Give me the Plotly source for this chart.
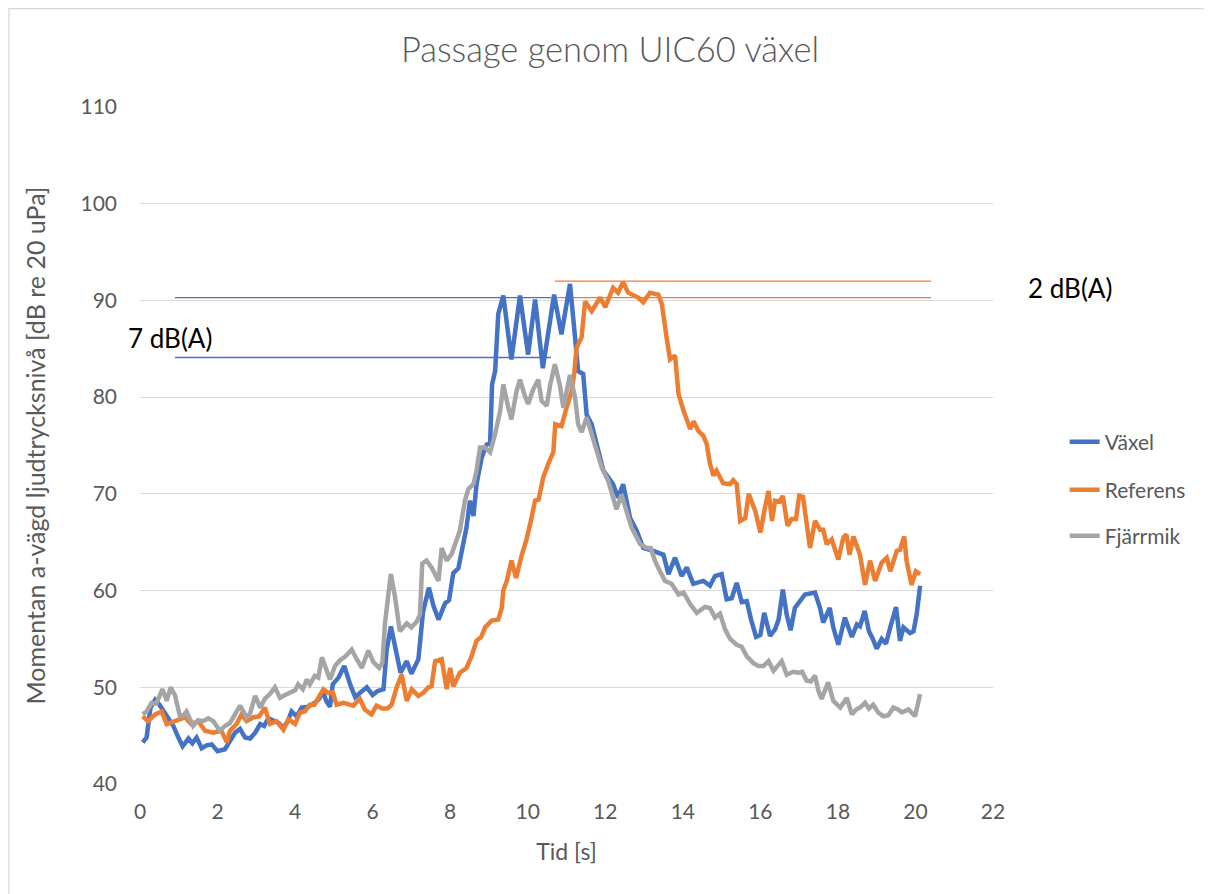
import plotly.graph_objects as go

# ---------------- data ----------------
t_vaxel = [0.07,0.17,0.27,0.39,0.5,0.69,0.86,0.99,1.1,1.25,1.35,1.46,1.59,1.72,1.85,2.0,2.19,2.3,2.45,2.58,
           2.71,2.84,2.97,3.1,3.2,3.31,3.45,3.58,3.68,3.8,3.91,4.04,4.17,4.34,4.51,4.62,4.72,4.8,4.9,4.97,
           5.12,5.27,5.42,5.55,5.67,5.85,6.0,6.12,6.28,6.36,6.47,6.6,6.72,6.88,7.0,7.18,7.3,7.45,7.57,7.7,
           7.87,7.97,8.08,8.21,8.34,8.42,8.51,8.6,8.68,8.81,8.94,9.03,9.08,9.16,9.24,9.37,9.58,9.8,10.01,10.19,
           10.39,10.68,10.87,11.09,11.22,11.3,11.43,11.52,11.65,11.78,11.95,12.2,12.33,12.46,12.64,12.81,12.98,13.24,13.5,13.63,
           13.8,13.97,14.1,14.27,14.53,14.7,14.83,15.0,15.13,15.26,15.39,15.52,15.65,15.76,15.89,16.0,16.1,16.25,16.38,16.47,
           16.58,16.68,16.78,16.89,17.02,17.15,17.41,17.54,17.62,17.79,17.88,18.01,18.18,18.36,18.49,18.57,18.69,18.8,18.9,19.0,
           19.13,19.24,19.35,19.5,19.6,19.69,19.86,19.95,20.03,20.12]
v_vaxel = [44.3,44.8,47.9,48.7,48.2,47.0,46.0,44.8,43.9,44.7,44.2,44.8,43.7,44.0,44.1,43.4,43.6,44.3,45.3,45.7,
           44.8,44.7,45.3,46.2,46.0,46.8,46.6,46.3,45.8,46.4,47.5,47.0,47.9,48.0,48.4,48.8,49.6,48.6,48.0,50.3,
           51.0,52.2,50.3,49.0,49.4,50.0,49.2,49.6,49.8,53.8,56.3,53.8,51.5,52.7,51.4,52.9,57.8,60.3,58.4,57.0,
           58.7,59.0,61.8,62.3,65.1,66.5,69.3,67.7,71.0,73.7,75.1,75.2,81.3,82.7,88.6,90.5,83.9,90.5,84.4,90.1,
           83.0,90.6,86.5,91.7,86.2,82.7,82.4,78.2,77.2,75.1,72.4,71.0,69.6,71.0,67.5,66.2,64.4,64.1,63.7,61.7,
           63.4,61.5,62.4,60.7,61.0,60.5,61.5,61.7,59.1,59.2,60.8,58.8,58.9,57.0,55.2,55.4,57.7,55.3,56.0,57.0,
           60.1,57.5,55.9,58.2,58.9,59.6,59.8,58.2,56.7,58.2,56.2,54.4,57.2,55.2,56.5,56.3,57.9,55.8,55.0,54.0,
           55.0,54.5,56.2,58.3,54.8,56.2,55.6,55.8,57.5,60.5]

t_referens = [0.07,0.21,0.39,0.56,0.69,0.9,1.16,1.32,1.5,1.68,1.89,2.1,2.24,2.32,2.49,2.62,2.75,2.92,3.08,3.22,
              3.35,3.52,3.7,3.83,4.0,4.13,4.25,4.38,4.5,4.6,4.73,4.86,4.97,5.07,5.25,5.5,5.67,5.8,5.97,6.1,
              6.25,6.38,6.49,6.62,6.75,6.88,7.01,7.18,7.3,7.44,7.52,7.61,7.78,7.91,8.0,8.08,8.25,8.42,8.55,8.68,
              8.8,8.9,9.07,9.24,9.33,9.37,9.46,9.58,9.7,9.84,9.97,10.08,10.19,10.28,10.4,10.53,10.66,10.71,10.87,11.0,
              11.13,11.2,11.26,11.39,11.48,11.65,11.87,12.0,12.2,12.33,12.46,12.59,12.72,12.85,12.98,13.15,13.37,13.46,13.58,13.67,
              13.8,13.89,14.02,14.19,14.28,14.4,14.53,14.62,14.7,14.79,14.87,15.04,15.22,15.3,15.39,15.48,15.61,15.7,15.87,16.0,
              16.12,16.21,16.3,16.38,16.5,16.58,16.7,16.81,16.92,17.0,17.1,17.19,17.28,17.41,17.54,17.62,17.71,17.84,18.01,18.14,
              18.22,18.3,18.4,18.57,18.7,18.83,18.96,19.13,19.26,19.35,19.52,19.6,19.71,19.77,19.9,20.01,20.12]
v_referens = [47.0,46.5,47.2,47.5,46.2,46.5,46.9,46.2,46.5,45.5,45.3,45.5,44.3,45.5,46.2,47.2,46.5,46.9,47.0,47.9,
              46.2,46.5,45.6,46.7,46.2,47.4,47.5,48.2,48.2,48.9,49.8,49.4,49.5,48.2,48.4,48.1,48.8,47.7,47.2,48.1,
              47.8,47.8,48.2,50.0,51.3,48.6,49.8,49.1,49.4,50.0,50.1,52.7,52.9,49.8,52.0,50.1,51.5,52.0,53.2,54.8,
              55.2,56.2,56.9,57.0,58.2,60.0,61.0,63.1,61.3,63.6,65.3,67.2,69.3,69.4,71.7,73.1,74.3,77.2,77.0,78.9,
              80.6,82.5,85.1,86.2,89.9,88.9,90.3,89.3,91.3,90.8,91.9,90.8,90.6,90.3,89.8,90.8,90.6,89.6,86.2,83.9,
              84.3,80.3,78.6,76.7,77.5,76.5,76.0,75.1,73.1,71.9,72.4,71.1,71.0,71.4,71.0,67.2,67.5,70.0,68.2,66.0,
              68.6,70.3,67.2,69.3,69.2,69.8,66.7,67.4,67.4,69.8,69.7,66.9,64.4,67.2,66.3,66.3,64.8,65.3,63.2,65.5,
              65.8,63.7,65.6,63.7,60.6,63.1,61.0,62.9,63.4,62.0,64.1,64.2,65.6,63.1,60.6,62.0,61.7]

t_fjarrmik = [0.07,0.17,0.3,0.42,0.58,0.69,0.79,0.9,1.03,1.12,1.2,1.37,1.5,1.63,1.76,1.89,2.06,2.19,2.32,2.45,
              2.58,2.75,2.84,2.97,3.1,3.22,3.35,3.48,3.61,3.74,3.87,4.0,4.08,4.2,4.3,4.38,4.51,4.6,4.69,4.81,
              4.9,5.03,5.16,5.3,5.46,5.59,5.72,5.89,6.02,6.17,6.25,6.32,6.4,6.47,6.58,6.7,6.88,7.0,7.14,7.22,
              7.28,7.39,7.52,7.7,7.78,7.91,8.04,8.17,8.25,8.38,8.47,8.6,8.68,8.77,8.9,9.03,9.16,9.29,9.37,9.5,
              9.58,9.71,9.8,9.93,10.01,10.14,10.27,10.36,10.49,10.58,10.7,10.83,10.92,11.09,11.22,11.3,11.39,11.52,11.65,11.78,
              11.91,12.08,12.2,12.29,12.42,12.55,12.68,12.9,13.07,13.17,13.28,13.41,13.54,13.71,13.89,14.02,14.19,14.36,14.57,14.7,
              14.83,14.96,15.09,15.22,15.39,15.52,15.65,15.82,15.95,16.08,16.21,16.34,16.55,16.68,16.85,16.98,17.08,17.19,17.3,17.41,
              17.5,17.58,17.75,17.88,18.06,18.23,18.36,18.47,18.57,18.7,18.8,18.91,19.04,19.17,19.3,19.43,19.55,19.65,19.82,19.99,
              20.12]
v_fjarrmik = [47.2,47.5,48.4,48.3,49.8,48.6,50.0,49.2,47.0,47.1,47.5,46.0,46.6,46.5,46.8,46.5,45.5,46.0,46.3,47.2,
              48.1,46.9,47.3,49.1,47.9,48.8,49.3,50.0,48.9,49.2,49.4,49.7,50.3,49.8,50.8,50.3,51.2,51.0,53.1,51.7,
              50.8,52.2,52.8,53.2,53.9,52.9,52.0,53.8,52.6,52.0,52.5,56.7,60.0,61.7,59.3,55.8,56.6,56.2,56.8,57.5,
              62.8,63.1,62.4,61.0,64.4,63.1,63.8,65.1,66.2,69.3,70.5,71.0,72.4,74.8,74.8,74.3,76.2,78.6,81.3,78.9,
              77.7,80.6,81.8,80.1,79.3,80.8,81.8,79.6,79.1,81.3,83.4,81.2,78.9,82.3,80.0,77.2,76.4,77.9,76.2,74.4,
              72.7,71.3,69.6,68.4,69.9,68.2,66.5,64.8,64.4,64.4,63.1,62.0,61.0,60.7,59.6,59.8,58.6,57.7,58.3,58.2,
              57.2,57.6,56.0,55.0,54.4,54.2,53.2,52.5,52.2,52.2,52.7,51.7,52.7,51.3,51.6,51.5,51.6,50.7,50.6,51.2,
              49.6,48.8,50.5,48.6,47.9,48.9,47.2,47.7,47.9,48.4,47.8,48.2,47.4,47.0,47.1,47.9,47.7,47.4,47.7,47.0,
              49.3]

series_names = ["Växel", "Referens", "Fjärrmik"]
series_colors = ["#4472C4", "#ED7D31", "#A5A5A5"]

# reference level lines (dB) and their time spans (s)
vaxel_levels = [90.3, 84.1]
vaxel_span = [0.9, 10.6]
referens_levels = [92.0, 90.3]
referens_span = [10.7, 20.4]

x_ticks = [0, 2, 4, 6, 8, 10, 12, 14, 16, 18, 20, 22]
y_ticks = [40, 50, 60, 70, 80, 90, 100, 110]

FONT = "Lato"
TXT = "#595959"

# figure geometry (page has an 8px body margin)
W, H = 1204, 887
ML, MT, PW, PH = 132, 99, 853, 677
MR = W - ML - PW
MB = H - MT - PH

fig = go.Figure()
data = [(t_vaxel, v_vaxel), (t_referens, v_referens), (t_fjarrmik, v_fjarrmik)]
legend_ids = ["legend", "legend2", "legend3"]
for (tx, vy), name, col, lg in zip(data, series_names, series_colors, legend_ids):
    fig.add_trace(go.Scatter(x=tx, y=vy, mode="lines", name=name, showlegend=True,
                             line=dict(color=col, width=4.5), legend=lg))

shapes = []
for lvl in vaxel_levels:
    shapes.append(dict(type="line", xref="x", yref="y", x0=vaxel_span[0], x1=vaxel_span[1],
                       y0=lvl, y1=lvl, line=dict(color="#4472C4", width=1.3), layer="below"))
for lvl in referens_levels:
    shapes.append(dict(type="line", xref="x", yref="y", x0=referens_span[0], x1=referens_span[1],
                       y0=lvl, y1=lvl, line=dict(color="#ED7D31", width=1.3), layer="below"))
# chart border
shapes.append(dict(type="rect", xref="paper", yref="paper",
                   x0=(1 - ML) / PW, x1=(W + 20 - ML) / PW,
                   y0=(MT + PH - (H + 20)) / PH, y1=(MT + PH - 0.5) / PH,
                   line=dict(color="#D9D9D9", width=1.3), fillcolor="rgba(0,0,0,0)", layer="below"))

legend_common = dict(xanchor="left", yanchor="middle", x=1.084, bgcolor="rgba(0,0,0,0)",
                     visible=True, font=dict(family=FONT, size=21, color=TXT))

fig.update_layout(
    width=W, height=H, showlegend=True,
    margin=dict(l=ML, r=MR, t=MT, b=MB),
    paper_bgcolor="white", plot_bgcolor="white",
    title=dict(text="Passage genom UIC60 växel", x=0.5, xref="container", xanchor="center",
               y=(H - 42) / H, yanchor="middle",
               font=dict(family=FONT, size=34.5, color=TXT, weight=300)),
    xaxis=dict(range=[0, 22], tickvals=x_ticks, showgrid=False, zeroline=False, showline=False,
               ticks="", ticklabelstandoff=13,
               tickfont=dict(family=FONT, size=21, color=TXT),
               title=dict(text="Tid [s]", font=dict(family=FONT, size=23, color=TXT), standoff=21)),
    yaxis=dict(range=[40, 110], tickvals=y_ticks, showgrid=True, gridcolor="#D9D9D9", gridwidth=1.3,
               zeroline=False, showline=False, ticks="", ticklabelstandoff=22,
               tickfont=dict(family=FONT, size=21, color=TXT),
               title=dict(text="Momentan a-vägd ljudtrycksnivå [dB re 20 uPa]",
                          font=dict(family=FONT, size=25, color=TXT), standoff=27)),
    legend=dict(y=(783 - 441) / 677, **legend_common),
    legend2=dict(y=(783 - 489) / 677, **legend_common),
    legend3=dict(y=(783 - 535) / 677, **legend_common),
    shapes=shapes,
    annotations=[
        dict(text="7 dB(A)", x=0.77, y=86.1, xref="x", yref="y", showarrow=False,
             xanchor="center", yanchor="middle",
             font=dict(family=FONT, size=26, color="black")),
        dict(text="2 dB(A)", x=(1070 - 140) / 853, y=(783 - 287) / 677, xref="paper", yref="paper",
             xanchor="center", yanchor="middle",
             showarrow=False, font=dict(family=FONT, size=26, color="black")),
    ],
)

fig.write_html("out.html")
